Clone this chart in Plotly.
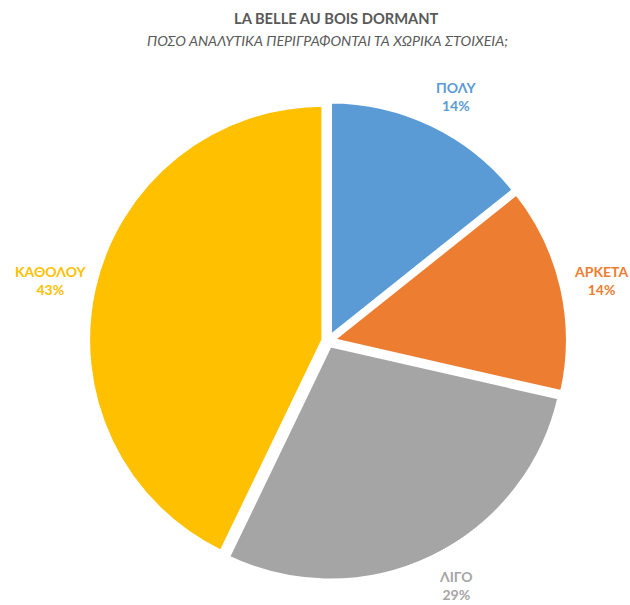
import math
import plotly.graph_objects as go

# Answers to the question and number of responses per answer
labels = ["ΠΟΛΥ", "ΑΡΚΕΤΑ", "ΛΙΓΟ", "ΚΑΘΟΛΟΥ"]
values = [1, 1, 2, 3]
colors = ["#5B9BD5", "#ED7D31", "#A5A5A5", "#FFC000"]

title_text = "LA BELLE AU BOIS DORMANT"
subtitle_text = "ΠΟΣΟ ΑΝΑΛΥΤΙΚΑ ΠΕΡΙΓΡΑΦΟΝΤΑΙ ΤΑ ΧΩΡΙΚΑ ΣΤΟΙΧΕΙΑ;"

W, H = 630, 605
FONT = "Lato"

# Pie placement (pixels): centre and outer size of the domain box
CX, CY, SIZE = 328, 341, 480
PULL = 0.02
LABEL_R = 252      # radius at which label boxes start
CHAR_HALF_W = 4.6  # approx. half width of one bold 14px capital
LABEL_HALF_H = 19  # half height of a two-line label

dom_x = [(CX - SIZE / 2) / W, (CX + SIZE / 2) / W]
dom_y = [1 - (CY + SIZE / 2) / H, 1 - (CY - SIZE / 2) / H]

fig = go.Figure(
    go.Pie(
        labels=labels,
        values=values,
        sort=False,
        direction="clockwise",
        rotation=0,
        pull=[PULL] * len(values),
        marker=dict(colors=colors, line=dict(color="white", width=4)),
        textinfo="none",
        showlegend=False,
        hoverinfo="label+percent",
        domain=dict(x=dom_x, y=dom_y),
    )
)

# Category labels outside each slice, pushed out from the slice's mid angle
total = sum(values)
annotations = []
cum = 0
for lab, val, col in zip(labels, values, colors):
    mid = (cum + val / 2) / total * 2 * math.pi
    cum += val
    ux, uy = math.sin(mid), -math.cos(mid)
    hw = CHAR_HALF_W * len(lab)
    px = CX + LABEL_R * ux + hw * math.copysign(1, ux)
    py = CY + LABEL_R * uy + LABEL_HALF_H * uy
    annotations.append(
        dict(
            text=f"<b>{lab}<br>{round(100 * val / total)}%</b>",
            x=px / W, y=1 - py / H, xref="paper", yref="paper",
            showarrow=False, xanchor="center", yanchor="middle",
            font=dict(family=FONT, size=14, color=col),
        )
    )

annotations += [
    dict(
        text=f"<b>{title_text}</b>",
        x=232 / W, y=1 - 18 / H, xref="paper", yref="paper",
        showarrow=False, xanchor="left", yanchor="middle",
        font=dict(family=FONT, size=14.7, color="#595959"),
    ),
    dict(
        text=f"<i>{subtitle_text}</i>",
        x=145 / W, y=1 - 40 / H, xref="paper", yref="paper",
        showarrow=False, xanchor="left", yanchor="middle",
        font=dict(family=FONT, size=14.3, color="#595959"),
    ),
]

fig.update_layout(
    width=W,
    height=H,
    margin=dict(l=0, r=0, t=0, b=0),
    paper_bgcolor="white",
    plot_bgcolor="white",
    annotations=annotations,
)

fig.write_html("out.html")
